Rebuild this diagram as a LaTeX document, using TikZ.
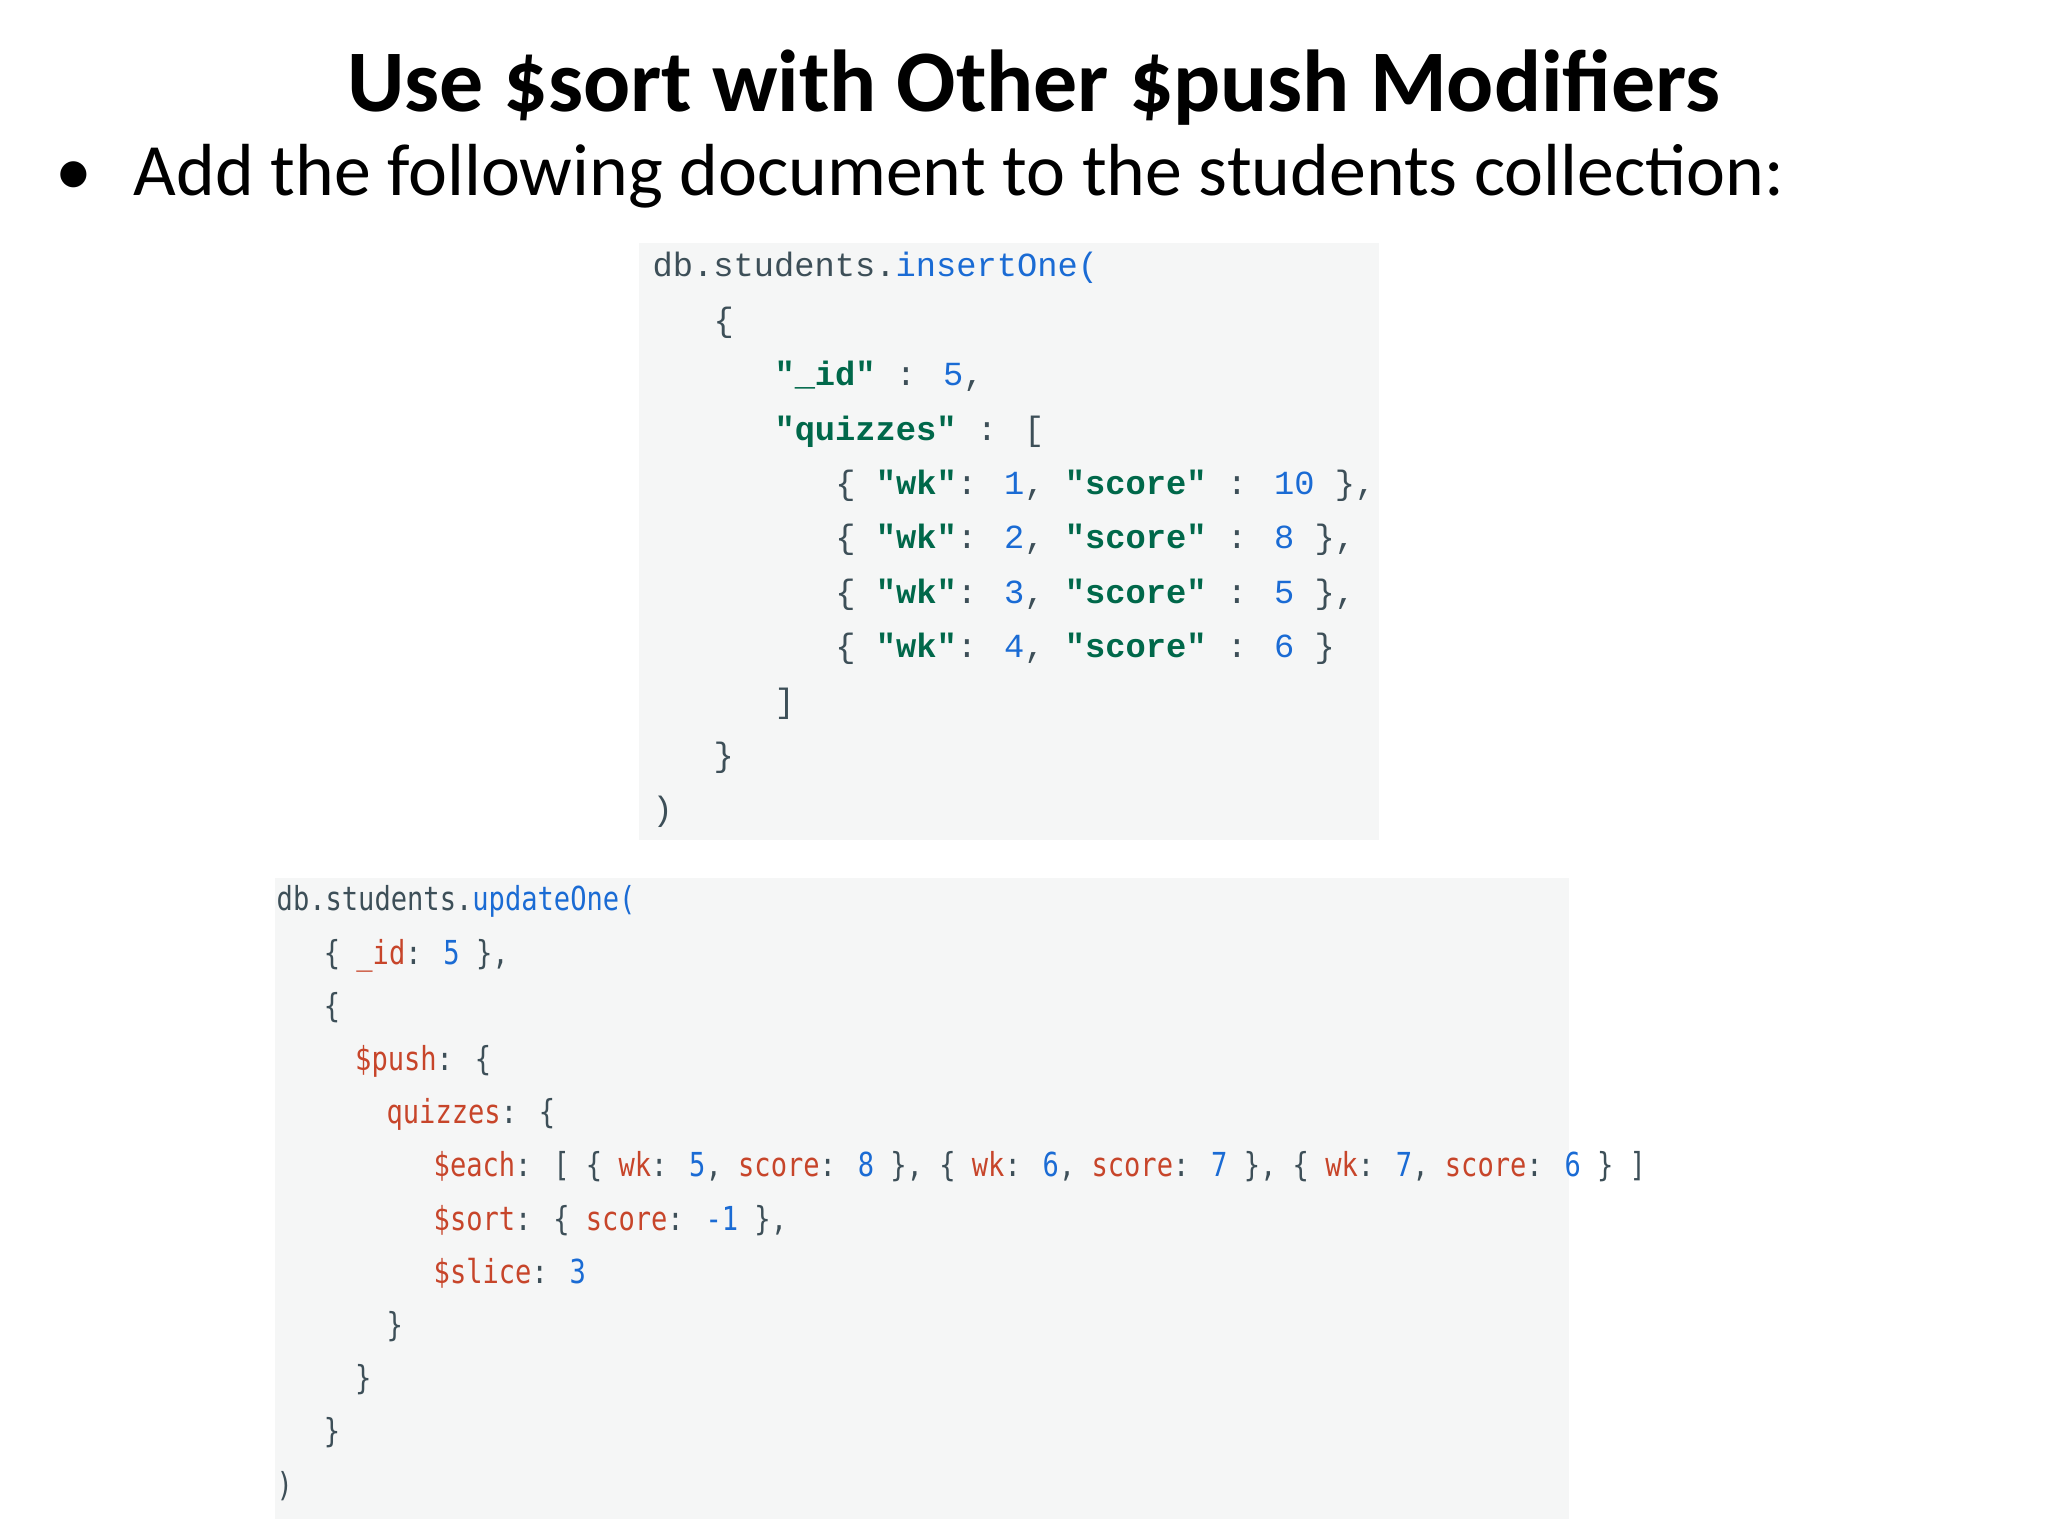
\documentclass[tikz,border=0pt]{standalone}
\usepackage{fontspec}
\setmainfont{Carlito}
\newfontfamily\codeA{Liberation Mono}
\newfontfamily\codeB[FakeStretch=0.82]{DejaVu Sans Mono}
\definecolor{codebg}{HTML}{F5F6F6}
\definecolor{codefg}{HTML}{3D4F58}
\definecolor{numblue}{HTML}{1A6BD4}
\definecolor{strgreen}{HTML}{00684A}
\definecolor{keyred}{HTML}{C7452A}
\newcommand\cN[1]{\textcolor{numblue}{#1}}
\newcommand\cS[1]{\textcolor{strgreen}{\bfseries #1}}
\newcommand\cK[1]{\textcolor{keyred}{#1}}

\begin{document}
\begin{tikzpicture}[x=1cm,y=1cm,
  la/.style = {anchor=base west, inner sep=0, font=\codeA\fontsize{9.6}{11}\selectfont, text=codefg},
  lb/.style = {anchor=base west, inner sep=0, font=\codeB\fontsize{9.4}{11}\selectfont, text=codefg}]
\useasboundingbox (0,0) rectangle (20.48,15.36);
% code backgrounds
\fill[codebg] (6.39,6.96) rectangle (13.79,12.93);
\fill[codebg] (2.75,0.17) rectangle (15.69,6.58);
\node[font=\bfseries\fontsize{25}{30}\selectfont] (title) at (10.34,14.48) {Use \$sort with Other \$push Modifiers};
\node[anchor=base west, inner sep=0, font=\fontsize{21}{25}\selectfont] (bul) at (0.55,13.4) {•};
\node[anchor=base west, inner sep=0, font=\fontsize{21}{25}\selectfont] (txt) at (1.33,13.4) {Add the following document to the students collection:};
% first block
\def\cw{0.203}
\node[la] (l1) at (6.52,12.59) {db.students.\cN{insertOne(}};
\node[la] (l2) at (6.52+3*\cw,12.59-0.544) {\{};
\node[la] (l3) at (6.52+6*\cw,12.59-2*0.544) {\cS{"\_id"} : \cN{5},};
\node[la] (l4) at (6.52+6*\cw,12.59-3*0.544) {\cS{"quizzes"} : [};
\node[la] (l5) at (6.52+9*\cw,12.59-4*0.544) {\{ \cS{"wk"}: \cN{1}, \cS{"score"} : \cN{10} \},};
\node[la] (l6) at (6.52+9*\cw,12.59-5*0.544) {\{ \cS{"wk"}: \cN{2}, \cS{"score"} : \cN{8} \},};
\node[la] (l7) at (6.52+9*\cw,12.59-6*0.544) {\{ \cS{"wk"}: \cN{3}, \cS{"score"} : \cN{5} \},};
\node[la] (l8) at (6.52+9*\cw,12.59-7*0.544) {\{ \cS{"wk"}: \cN{4}, \cS{"score"} : \cN{6} \}};
\node[la] (l9) at (6.52+6*\cw,12.59-8*0.544) {]};
\node[la] (l10) at (6.52+3*\cw,12.59-9*0.544) {\}};
\node[la] (l11) at (6.52,12.59-10*0.544) {)};
% second block
\def\cv{0.157}
\node[lb] (m1) at (2.76,6.25) {db.students.\cN{updateOne(}};
\node[lb] (m2) at (2.76+3*\cv,6.25-0.532) {\{ \cK{\_id}: \cN{5} \},};
\node[lb] (m3) at (2.76+3*\cv,6.25-2*0.532) {\{};
\node[lb] (m4) at (2.76+5*\cv,6.25-3*0.532) {\cK{\$push}: \{};
\node[lb] (m5) at (2.76+7*\cv,6.25-4*0.532) {\cK{quizzes}: \{};
\node[lb] (m6) at (2.76+10*\cv,6.25-5*0.532) {\cK{\$each}: [ \{ \cK{wk}: \cN{5}, \cK{score}: \cN{8} \}, \{ \cK{wk}: \cN{6}, \cK{score}: \cN{7} \}, \{ \cK{wk}: \cN{7}, \cK{score}: \cN{6} \} ]};
\node[lb] (m7) at (2.76+10*\cv,6.25-6*0.532) {\cK{\$sort}: \{ \cK{score}: \cN{-1} \},};
\node[lb] (m8) at (2.76+10*\cv,6.25-7*0.532) {\cK{\$slice}: \cN{3}};
\node[lb] (m9) at (2.76+7*\cv,6.25-8*0.532) {\}};
\node[lb] (m10) at (2.76+5*\cv,6.25-9*0.532) {\}};
\node[lb] (m11) at (2.76+3*\cv,6.25-10*0.532) {\}};
\node[lb] (m12) at (2.76,6.25-11*0.532) {)};
\end{tikzpicture}
\end{document}
